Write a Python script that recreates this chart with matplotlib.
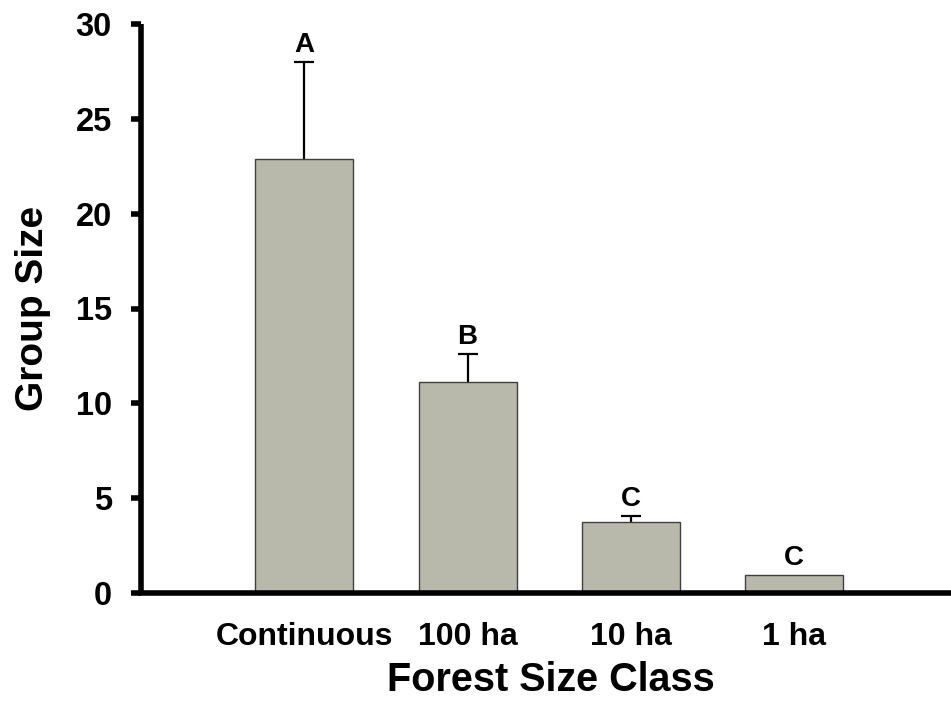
import matplotlib
matplotlib.use("Agg")
import matplotlib.pyplot as plt

categories = ["Continuous", "100 ha", "10 ha", "1 ha"]
group_size = [22.88, 11.12, 3.76, 0.96]
err_upper = [5.12, 1.48, 0.30, 0.0]
letters = ["A", "B", "C", "C"]
y_ticks = [0, 5, 10, 15, 20, 25, 30]

plt.rcParams['font.family'] = ['Liberation Sans', 'DejaVu Sans']

fig = plt.figure(figsize=(9.51, 7.10), dpi=100)
ax = fig.add_axes([141/951, 1-593/710, 1-141/951, (593-24)/710])

x = list(range(len(categories)))
ax.bar(x, group_size, width=0.6, color='#b8b8ab', edgecolor='#404040', linewidth=1.0, zorder=2)

ex = [xi for xi, e in zip(x, err_upper) if e > 0]
ey = [v for v, e in zip(group_size, err_upper) if e > 0]
ee = [e for e in err_upper if e > 0]
cont = ax.errorbar(ex, ey, yerr=[[0]*len(ex), ee], fmt='none', ecolor='black',
                   elinewidth=1.6, capsize=7, capthick=1.6, zorder=1)
caps = cont.lines[1]
if len(caps) == 2:
    caps[0].set_visible(False)

for xi, v, e, lab in zip(x, group_size, err_upper, letters):
    ax.annotate(lab, (xi, v + e), xytext=(0, 3), textcoords='offset points',
                ha='center', va='bottom', fontsize=20, fontweight='bold')

ax.set_xlim(-1.0, 3.96)
ax.set_ylim(0, 30)
ax.set_yticks(y_ticks)
ax.set_xticks(x)
ax.set_xticklabels(categories)

for s in ['top', 'right']:
    ax.spines[s].set_visible(False)
ax.spines['left'].set_linewidth(4)
ax.spines['bottom'].set_linewidth(4)
ax.spines['left'].set_capstyle('butt')

ax.tick_params(axis='x', length=0, pad=21, labelsize=23)
ax.tick_params(axis='y', length=7, width=4, pad=14, labelsize=23.5)
for t in ax.get_xticklabels() + ax.get_yticklabels():
    t.set_fontweight('bold')

ax.set_ylabel("Group Size", fontsize=28, fontweight='bold')
ax.yaxis.set_label_coords((51-141)/810, 0.5)
ax.set_xlabel("Forest Size Class", fontsize=28.5, fontweight='bold')
ax.xaxis.set_label_coords((551-141)/810, (593-661)/569)

fig.savefig("out.png", dpi=100)
